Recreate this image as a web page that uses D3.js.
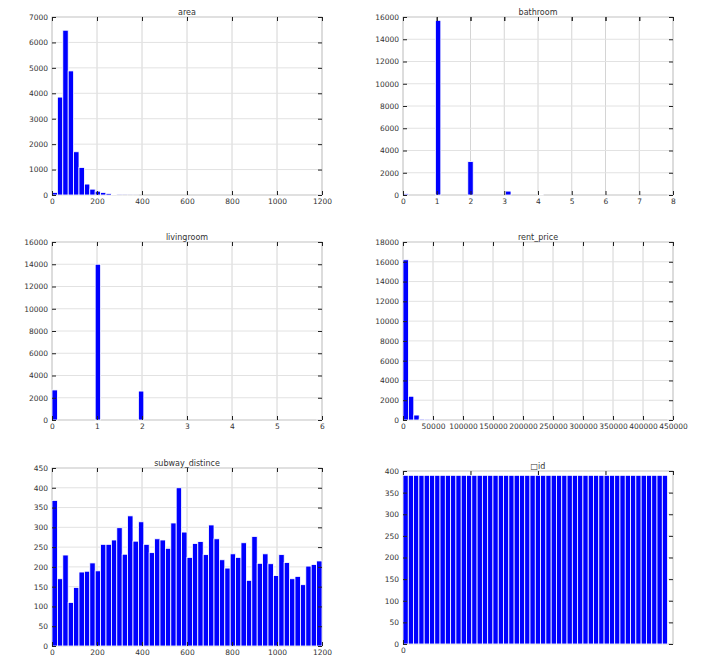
<!DOCTYPE html><html><head><meta charset="utf-8"><script src="https://cdn.jsdelivr.net/npm/d3@7"></script>
<style>body{margin:0;background:#fff}text{font-family:"DejaVu Sans",sans-serif}</style></head><body><svg id="c" width="701" height="670"></svg>
<script>
const areaCounts=[100,3850,6480,4880,1700,1080,430,230,150,100,60,30,10,5,3,2,0,0,0,0,0,0,0,0,0,0,0,0,0,0,0,0,0,0,0,0,0,0,0,0,0,0,0,0,0,0,0,0,0,1];
const bathroomCounts=[100,0,0,0,0,0,15700,0,0,0,0,0,3000,0,0,0,0,0,0,350,0,0,0,0,0,50,0,0,0,0,0,0,0,0,0,0,0,0,0,0,0,0,0,0,0,0,0,0,0,2];
const livingroomCounts=[2700,0,0,0,0,0,0,0,14000,0,0,0,0,0,0,0,2600,0,0,0,0,0,0,0,0,0,0,0,0,0,0,0,0,0,0,0,0,0,0,0,0,0,0,0,0,0,0,0,0,2];
const rentCounts=[16200,2400,500,100,30,10,0,0,0,0,0,0,0,0,0,0,0,0,0,0,0,0,0,0,0,0,0,0,0,0,0,0,0,0,0,0,0,0,0,0,0,0,0,0,0,0,0,0,0,1];
const subwayCounts=[368,170,230,110,148,187,189,210,190,257,257,268,299,232,329,265,314,257,236,271,268,247,311,400,288,224,259,264,231,306,271,218,197,233,224,261,166,277,209,233,208,178,231,211,170,176,155,202,206,215];
const idCounts=Array(50).fill(390);
const panels=[
 {title:"area",counts:areaCounts,x:[0,1200],y:[0,7000],xt:[0,200,400,600,800,1000,1200],yt:[0,1000,2000,3000,4000,5000,6000,7000],L:52,T:17},
 {title:"bathroom",counts:bathroomCounts,x:[0,8],y:[0,16000],xt:[0,1,2,3,4,5,6,7,8],yt:[0,2000,4000,6000,8000,10000,12000,14000,16000],L:403,T:17},
 {title:"livingroom",counts:livingroomCounts,x:[0,6],y:[0,16000],xt:[0,1,2,3,4,5,6],yt:[0,2000,4000,6000,8000,10000,12000,14000,16000],L:52,T:242},
 {title:"rent_price",counts:rentCounts,x:[0,450000],y:[0,18000],xt:[0,50000,100000,150000,200000,250000,300000,350000,400000,450000],yt:[0,2000,4000,6000,8000,10000,12000,14000,16000,18000],L:403,T:242},
 {title:"subway_distince",counts:subwayCounts,x:[0,1200],y:[0,450],xt:[0,200,400,600,800,1000,1200],yt:[0,50,100,150,200,250,300,350,400,450],L:52,T:468},
 {title:"\u25A1id",counts:idCounts,x:[0,1],y:[0,400],xt:[0],yt:[0,50,100,150,200,250,300,350,400],L:403,T:471,grid:[0.25,0.5,0.75,1],barsTo:0.98},
];
const W=270;
const svg=d3.select("#c");
panels.forEach((p,i)=>{
 const H=p.T===471?173:178;
 const g=svg.append("g").attr("transform",`translate(${p.L},${p.T})`);
 const x=d3.scaleLinear().domain(p.x).range([0,W]);
 const y=d3.scaleLinear().domain(p.y).range([H,0]);
 const gx=p.grid||p.xt;
 g.selectAll(".gx").data(gx).join("line").attr("x1",d=>x(d)).attr("x2",d=>x(d)).attr("y1",0).attr("y2",H).attr("stroke","#d4d4d4");
 g.selectAll(".gy").data(p.yt).join("line").attr("x1",0).attr("x2",W).attr("y1",d=>y(d)).attr("y2",d=>y(d)).attr("stroke","#e2e2e2");
 g.append("rect").attr("width",W).attr("height",H).attr("fill","none").attr("stroke","#cfcfcf");
 const span=(p.x[1]-p.x[0])*(p.barsTo||1);
 const bw=span/p.counts.length;
 g.selectAll(".b").data(p.counts).join("rect")
  .attr("x",(d,j)=>x(p.x[0]+j*bw)).attr("width",x(bw)-x(0))
  .attr("y",d=>y(d)).attr("height",d=>H-y(d))
  .attr("fill","#0000ff").attr("stroke","#ffffff").attr("stroke-width",0.8);
 const ax=d3.axisBottom(x).tickValues(p.xt).tickSize(-4).tickPadding(4).tickFormat(d3.format("d"));
 const xa=g.append("g").attr("transform",`translate(0,${H})`).call(ax);
 const ay=d3.axisLeft(y).tickValues(p.yt).tickSize(-4).tickPadding(4).tickFormat(d3.format("d"));
 const ya=g.append("g").call(ay);
 const yr=g.append("g").attr("transform",`translate(${W},0)`).call(d3.axisRight(y).tickValues(p.yt).tickSize(-4).tickFormat(""));
 const xt=g.append("g").call(d3.axisTop(x).tickValues(gx.concat(p.xt)).tickSize(-4).tickFormat(""));
 [xa,ya,yr,xt].forEach(a=>{a.select(".domain").remove();a.selectAll("line").attr("stroke","#222");a.selectAll("text").attr("fill","#333").attr("font-size",7.5);});
 g.append("text").attr("x",W/2).attr("y",-2).attr("text-anchor","middle").attr("font-size",8).attr("fill","#333").attr("font-family","DejaVu Sans Mono").text(p.title);
});
</script></body></html>
